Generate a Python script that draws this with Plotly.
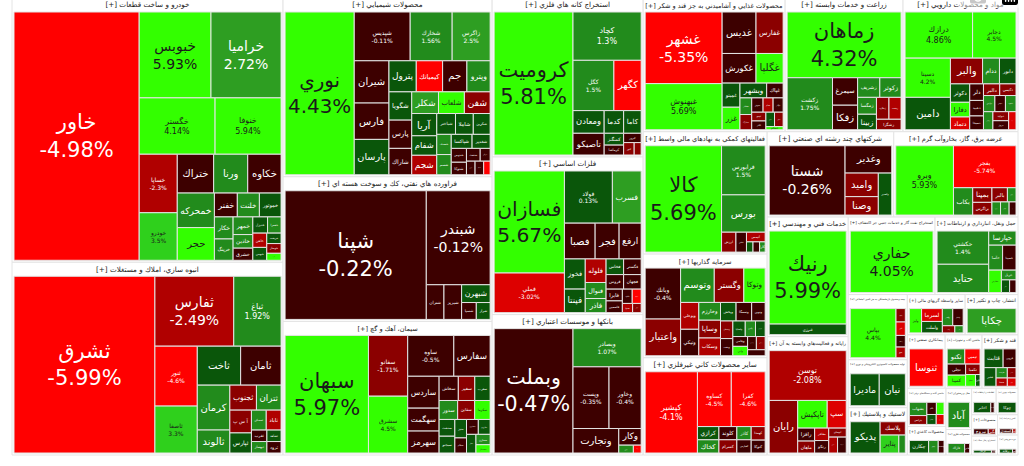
import plotly.graph_objects as go

# ---------------- sectors (name, relative size incl. header) ----------------
sector_names = [
    "خودرو و ساخت قطعات",
    "انبوه سازي، املاك و مستغلات",
    "محصولات شيميايي",
    "فراورده هاي نفتي، كك و سوخت هسته اي",
    "سيمان، آهك و گچ",
    "استخراج كانه هاي فلزي",
    "فلزات اساسي",
    "بانكها و موسسات اعتباري",
    "محصولات غذايي و آشاميدني به جز قند و شكر",
    "زراعت و خدمات وابسته",
    "مواد و محصولات دارويي",
    "فعاليتهاي كمكي به نهادهاي مالي واسط",
    "شركتهاي چند رشته اي صنعتي",
    "عرضه برق، گاز، بخاروآب گرم",
    "سرمايه گذاريها",
    "ساير محصولات كاني غيرفلزي",
    "خدمات فني و مهندسي",
    "رايانه و فعاليت‌هاي وابسته به آن",
    "استخراج نفت گاز و خدمات جنبي جز اكتشاف",
    "حمل ونقل، انبارداري و ارتباطات",
    "بيمه وصندوق بازنشستگي به جز تامين اجتماعي",
    "ساير واسطه گريهاي مالي",
    "انتشار، چاپ و تكثير",
    "پيمانكاري صنعتي",
    "ماشين آلات و تجهيزات",
    "قند و شكر",
    "توليد محصولات كامپيوتري الكترونيكي و نوري",
    "لاستيك و پلاستيك",
    "ماشين آلات و دستگاه‌هاي برقي",
    "محصولات كاغذي",
    "هتل و رستوران",
    "محصولات فلزي",
    "اطلاعات و ارتباطات",
    "محصولات چوبي",
    "منسوجات",
    "استخراج زغال سنگ",
    "كاشي و سراميك",
    "خرده فروشي",
]
sector_sizes = [71300, 52000, 37200, 30100, 27800, 23900, 23700, 21100, 18900, 15700,
                15300, 15100, 10750, 10550, 12800, 12000, 9650, 9550, 6700, 6400,
                3835, 2320, 2120, 2010, 1960, 1910, 2820, 2780, 1470, 1100,
                1050, 650, 648, 575, 552, 486, 414, 405]

# ---------------- stocks per sector: names, sizes, % change ----------------
auto_names = ["خاور", "خبوبس", "خراميا", "خگستر", "خنوفا", "خساپا", "خودرو", "خكاوه", "ختراك", "ورنا",
              "خمحركه", "حجر", "خموتور", "خفنر", "خلنت", "خكار", "خرينگ", "خمهر", "خشرق", "خاهن",
              "خاذين", "خديزل", "خعمرا", "خبهمن", "خريخت", "خوساز", "خصدرا"]
auto_values = [31250, 6200, 6050, 4300, 3740, 2240, 1820, 1300, 1420, 1330,
               1290, 1220, 520, 550, 530, 414, 400, 350, 240, 200,
               270, 240, 220, 180, 150, 140, 100]
auto_change = [-4.98, 5.93, 2.72, 4.14, 5.94, -2.3, 3.5, -0.8, -0.5, 1.5,
               1.8, 4.5, 0.5, -0.6, 1.6, 1.4, 1.2, 1.3, -0.5, -2.0,
               1.0, 0.3, 1.2, 0.5, 0.4, -1.5, 4.5]

build_names = ["ثشرق", "ثفارس", "ثباغ", "ثنور", "ثاصفا", "ثاخت", "ثامان", "كرمان", "ثالوند", "ثجنوب",
               "ثتران", "آ س پ", "ثپارس", "ثمسكن", "ثاباد", "ثغرب", "ثبهساز", "ثشاهد", "ثرود"]
build_values = [25300, 5600, 3360, 2580, 2020, 1716, 1600, 1485, 760, 675,
                625, 500, 440, 300, 300, 180, 180, 165, 165]
build_change = [-5.99, -2.49, 1.92, -4.6, 3.3, 0.6, -0.4, 1.5, 1.2, -1.8,
                1.4, -1.9, 0.3, 1.3, -2.0, -0.6, 1.2, 0.4, -0.5]

chem_names = ["نوري", "شپديس", "شخارك", "زاگرس", "شيران", "فارس", "پارسان", "پترول", "كيمياتك", "جم",
              "وپترو", "شگويا", "پارس", "شاراك", "شكلر", "شلعاب", "شفن", "آريا", "شفام", "شجم",
              "شباختر", "شاملا", "شكربن", "شصدف", "شسم", "شپاكسا", "شغدير", "شدوص", "شتوكا", "شنفت",
              "شرنگي", "شيراز", "شكام", "شصفها"]
chem_values = [11550, 2800, 2100, 1900, 1505, 1295, 1260, 870, 840, 775,
               740, 660, 660, 616, 594, 575, 572, 572, 500, 500,
               400, 380, 360, 300, 300, 300, 260, 216, 195, 180,
               130, 120, 120, 90]
chem_change = [4.43, -0.11, 1.56, 2.5, -0.6, -0.4, 0.3, 0.5, -4.2, -0.7,
               1.3, 0.3, -0.5, -0.6, 2.0, 4.5, -1.7, 0.4, 0.4, -2.2,
               0.2, 0.3, 0.4, 1.4, 1.2, 0.4, 0.3, -0.5, -0.6, -0.7,
               -0.8, -0.6, -0.5, -4.0]

oil_names = ["شپنا", "شبندر", "شتران", "شبريز", "شبهرن", "شسپا", "شراز"]
oil_values = [18700, 6175, 630, 630, 522, 255, 240]
oil_change = [-0.22, -0.12, -0.3, -0.4, 0.5, -0.3, 0.4]

cem_names = ["سبهان", "سفانو", "سشرق", "ساوه", "سفارس", "ساردس", "سهگمت", "سهرمز", "سخاش", "سفير",
             "سغرب", "سدور", "سقاين", "سكرما", "سدشت", "سبجنو", "سنيز", "سيلام", "سكارون", "ساروم",
             "سفار", "سمازن", "سشمال"]
cem_values = [10030, 2440, 2280, 1927, 1517, 1024, 736, 704, 476, 408,
              380, 360, 330, 300, 270, 270, 220, 180, 180, 180,
              180, 150, 120]
cem_change = [5.97, -1.71, 4.5, -0.5, -0.6, -0.8, -0.5, -0.6, -0.7, -1.5,
              0.4, 1.5, -1.8, 4.6, 0.3, 0.4, 0.3, -0.5, -0.6, 0.5,
              0.4, 1.3, 4.4]

mine_names = ["كروميت", "كچاد", "كگل", "كگهر", "ومعادن", "تاصيكو", "كدما", "كاما", "كمنگنز", "كرماشا",
              "كپرور", "كنور", "كسرا"]
mine_values = [11745, 3430, 2142, 1428, 736, 704, 460, 414, 240, 200, 170, 136, 90]
mine_change = [5.81, 1.3, 1.5, -4.3, 0.4, -0.6, 0.3, 0.4, 0.3, -0.5, -0.5, -1.5, -1.6]

metal_names = ["فسازان", "فملي", "فولاد", "فسرب", "فصبا", "فجر", "ارفع", "فخوز", "فپنتا", "فلوله",
               "فنوال", "فاذر", "فخاس", "فگستر", "فروس", "فجهان", "فايرا", "فاسمين", "فكاوه", "فالوم",
               "فسپا", "فرآور"]
metal_values = [7313, 2840, 2550, 1530, 1120, 875, 805, 640, 500, 500,
                340, 300, 280, 280, 260, 260, 195, 195, 144, 130,
                96, 80]
metal_change = [5.67, -3.02, 0.13, 2.2, -0.5, -0.6, -0.5, 0.4, 0.3, -2.2,
                1.3, 1.2, 0.4, -0.6, -0.5, -0.7, -0.5, -0.6, -0.4, -4.2,
                -2.2, -1.5]

bank_names = ["وبملت", "وبصادر", "وپست", "وخاور", "وتجارت", "وكار", "ودي", "وسينا"]
bank_values = [10287, 2730, 2331, 2079, 1175, 391, 120, 64]
bank_change = [-0.47, 1.07, -0.35, -0.4, -0.5, -0.6, 1.3, -4.0]

food_names = ["غشهر", "غبهنوش", "غديس", "غفارس", "غكورش", "غگلپا", "غمينو", "غزر", "وبشهر", "غپاك",
              "غشاذر", "غمارگ", "غنوش", "غدام", "غپآذر", "غپينو", "غاذر", "غشان", "غگل", "غسالم"]
food_values = [5767, 3713, 1470, 1176, 1050, 840, 450, 420, 414, 255,
               204, 187, 170, 150, 150, 130, 130, 130, 130, 56]
food_change = [-5.35, 5.69, -0.6, -1.8, -0.5, 4.3, 0.4, 4.2, 0.3, -0.7,
               1.5, -1.5, -0.6, -2.0, -0.4, -1.8, -0.5, 0.3, -1.6, 4.0]

agri_names = ["زماهان", "زكشت", "سيمرغ", "زفكا", "زشريف", "زكوثر", "زمگسا", "زبينا", "زملارد", "زدشت", "زشگزا"]
agri_values = [7906, 2491, 728, 650, 460, 440, 336, 308, 289, 280, 272]
agri_change = [4.32, 1.75, -0.6, -0.7, 1.2, 1.8, 1.3, 0.5, -1.5, -2.5, -1.7]

pharma_names = ["درازك", "دجابر", "دسينا", "دامين", "والبر", "ددام", "دابور", "دكوثر", "دفارا", "دتماد",
                "دلر", "دعبيد", "دسبحا", "دالبر", "دكيمي", "دپارس", "دشيمي", "داسوه", "درهآور", "دتوليد",
                "دروز", "دفرا"]
pharma_values = [3290, 2115, 1880, 1551, 875, 460, 450, 375, 300, 260,
                 240, 225, 200, 200, 200, 195, 180, 180, 180, 150,
                 150, 140]
pharma_change = [4.86, 4.5, 4.2, 0.4, -1.8, 1.2, 0.3, 0.4, 4.3, -3.0,
                 -0.6, -0.6, -0.5, -1.6, -1.8, 1.4, -0.6, 1.3, 1.2, -1.5,
                 -0.5, -3.5]

fin_names = ["كالا", "فرابورس", "بورس", "ارزش", "اطلس", "آتيمس", "سپرده", "ثبات", "كارا"]
fin_values = [8532, 2250, 1710, 300, 220, 190, 70, 70, 60]
fin_change = [5.69, 1.5, 1.3, -1.8, -0.6, -2.5, 0.4, -0.5, 1.2]

multi_names = ["شستا", "وغدير", "واميد", "وصنا", "وكغدير"]
multi_values = [5538, 1344, 825, 645, 594]
multi_change = [-0.26, -0.6, -1.8, -1.5, 0.3]

power_names = ["وبرو", "بفجر", "بكاب", "بمپنا", "بزاگرس", "بالبر", "بتوان", "بجهرم", "بگيلان", "بنيرو"]
power_values = [4260, 2795, 560, 300, 260, 234, 130, 120, 120, 96]
power_change = [5.93, -5.74, 1.2, -1.8, -1.6, -1.5, 1.3, 1.4, 1.2, -0.5]

inv_names = ["وبانك", "واعتبار", "وتوسم", "وگستر", "وتوكا", "وبوعلي", "ونيكي", "وخارزم", "وساپا", "وسكاب",
             "وپخش", "وسمگا", "ونوين", "وسبحان", "ونفت", "ولساپا", "وآفري", "وكبهمن", "وجامي", "واتي",
             "وسخراج", "وسرضوي", "وسپهر"]
inv_values = [1872, 1350, 1200, 1053, 760, 507, 500, 400, 400, 400,
              300, 300, 260, 225, 220, 200, 165, 156, 150, 144,
              120, 120, 110]
inv_change = [-0.4, -1.8, 1.6, -1.8, 4.4, -2.3, -0.6, 1.4, -1.8, -2.0,
              0.4, -0.6, -0.5, -1.5, -0.5, 0.3, 1.3, 0.4, -0.5, 4.2,
              -0.7, -1.6, -0.5]

nonmet_names = ["كپشير", "كساوه", "كفرا", "كرازي", "كخاك", "كلوند", "كسرام", "كاذر", "كفپارس", "كهمدا", "كتوكا"]
nonmet_values = [4482, 1960, 1960, 300, 300, 250, 250, 200, 200, 200, 190]
nonmet_change = [-4.1, -4.5, -4.6, 0.4, 1.3, -0.6, -1.8, 1.5, -0.5, -1.7, -0.6]

eng_names = ["رنيك", "فنرژي"]
eng_values = [7128, 810]
eng_change = [5.99, 0.3]

it_names = ["توسن", "رايان", "تاپكيش", "سپ", "رافزا", "ماهان", "مفاخر", "رتكو", "ابوساي", "مداران", "فن آوا"]
it_values = [4374, 1710, 930, 600, 250, 230, 200, 200, 180, 160, 157]
it_change = [-2.08, -1.8, 4.4, -3.5, -0.5, -1.6, -2.0, -0.6, -1.5, -2.5, -0.5]

drill_names = ["حفاري"]
drill_values = [5481]
drill_change = [4.05]

trans_names = ["حكشتي", "حتايد", "حپارسا", "حآسا", "حسينا", "حفارس", "حريل", "حسير", "حبندر"]
trans_values = [1802, 1537, 405, 364, 351, 299, 150, 110, 85]
trans_change = [1.4, 1.3, 1.5, 1.2, -0.6, 4.2, 1.2, 0.4, -0.6]

ins_names = ["بپاس", "بكوثر", "البرز", "ومعلم", "بنو"]
ins_values = [2700, 150, 150, 130, 120]
ins_change = [4.4, -1.8, -3.0, -0.6, -2.5]

leas_names = ["وليز", "لسرما", "ولملت", "ولغدر", "ولتجار", "ولصنم", "ولشرق"]
leas_values = [500, 450, 400, 300, 300, 150, 100]
leas_change = [4.5, -3.0, 0.4, 1.3, -0.6, -1.8, 1.2]

print_names = ["چكاپا"]
print_values = [1600]
print_change = [2.5]

contr_names = ["ثنوسا"]
contr_values = [1500]
contr_change = [-4.5]

mach_names = ["تكنو", "تپمپي", "تجلي", "كمينا", "تكمبا", "فجام", "تايرا"]
mach_values = [300, 260, 230, 230, 170, 130, 60]
mach_change = [1.5, -4.0, -0.6, 4.4, -1.8, 4.2, 0.4]

sugar_names = ["قثابت", "قزوين", "قشير", "قلرست", "قنيشا", "قشكر", "قچار"]
sugar_values = [400, 270, 250, 130, 104, 100, 80]
sugar_change = [0.4, -0.6, 0.3, 1.3, -2.5, -1.7, -3.0]

elec_names = ["ماديرا", "نيان"]
elec_values = [1000, 900]
elec_change = [0.4, 0.3]

rubber_names = ["پديكو", "پلاسك", "پتاير", "پارتا"]
rubber_values = [1280, 460, 459, 160]
rubber_change = [0.4, -1.8, 3.0, 1.3]

emach_names = ["بشهاب", "بترانس", "بكام", "بنيان", "بالاس", "بسويچ"]
emach_values = [300, 200, 150, 120, 120, 100]
emach_change = [1.5, -1.8, -0.6, 4.2, 0.3, -3.0]

paper_names = ["چكارن", "چفيبر", "چافست"]
paper_values = [500, 250, 150]
paper_change = [0.4, 1.3, -0.6]

hotel_names = ["آباد"]
hotel_values = [700]
hotel_change = [1.4]

metprod_names = ["فاراك", "فلامي"]
metprod_values = [500, 150]
metprod_change = [1.4, -0.6]

tele_names = ["اخابر", "همراه"]
tele_values = [500, 100]
tele_change = [0.4, -0.6]

wood_names = ["چوكا"]
wood_values = [400]
wood_change = [0.3]

text_names = ["نبروج", "نگين"]
text_values = [300, 150]
text_change = [-0.6, -1.7]

coal_names = ["كزغال", "كطبس"]
coal_values = [350, 80]
coal_change = [0.4, -0.6]

tile_names = ["كسعدي", "كتابا"]
tile_values = [300, 80]
tile_change = [-0.6, -2.2]

retail_names = ["رفاه", "افق"]
retail_values = [300, 80]
retail_change = [0.4, -0.6]

sector_stocks = [
    (auto_names, auto_values, auto_change), (build_names, build_values, build_change),
    (chem_names, chem_values, chem_change), (oil_names, oil_values, oil_change),
    (cem_names, cem_values, cem_change), (mine_names, mine_values, mine_change),
    (metal_names, metal_values, metal_change), (bank_names, bank_values, bank_change),
    (food_names, food_values, food_change), (agri_names, agri_values, agri_change),
    (pharma_names, pharma_values, pharma_change), (fin_names, fin_values, fin_change),
    (multi_names, multi_values, multi_change), (power_names, power_values, power_change),
    (inv_names, inv_values, inv_change), (nonmet_names, nonmet_values, nonmet_change),
    (eng_names, eng_values, eng_change), (it_names, it_values, it_change),
    (drill_names, drill_values, drill_change), (trans_names, trans_values, trans_change),
    (ins_names, ins_values, ins_change), (leas_names, leas_values, leas_change),
    (print_names, print_values, print_change), (contr_names, contr_values, contr_change),
    (mach_names, mach_values, mach_change), (sugar_names, sugar_values, sugar_change),
    (elec_names, elec_values, elec_change), (rubber_names, rubber_values, rubber_change),
    (emach_names, emach_values, emach_change), (paper_names, paper_values, paper_change),
    (hotel_names, hotel_values, hotel_change), (metprod_names, metprod_values, metprod_change),
    (tele_names, tele_values, tele_change), (wood_names, wood_values, wood_change),
    (text_names, text_values, text_change), (coal_names, coal_values, coal_change),
    (tile_names, tile_values, tile_change), (retail_names, retail_values, retail_change),
]


def tile_color(p):
    if p >= 4:
        return "#33ff00"
    if p >= 3:
        return "#2fd01c"
    if p >= 2:
        return "#2e9e22"
    if p >= 1:
        return "#228b1c"
    if p >= 0:
        return "#0a560a"
    if p > -1:
        return "#3d0000"
    if p > -2:
        return "#8b0000"
    if p > -3:
        return "#b00000"
    if p > -4:
        return "#dd0000"
    return "#ff0000"


ids, labels, parents, values, colors, texts, fsizes, fcolors = [], [], [], [], [], [], [], []
for si, (sname, ssize) in enumerate(zip(sector_names, sector_sizes)):
    sid = f"s{si}"
    ids.append(sid)
    labels.append("[+] " + sname)
    parents.append("")
    values.append(0)
    colors.append("#ffffff")
    texts.append("[+] " + sname)
    fsizes.append(9)
    fcolors.append("#222222")
    names, vals, chg = sector_stocks[si]
    scale = ssize / sum(vals)
    for n, v, c in zip(names, vals, chg):
        ids.append(f"{sid}/{n}")
        labels.append(n)
        parents.append(sid)
        values.append(v * scale)
        colors.append(tile_color(c))
        if v >= 1800:
            texts.append(f"{n}<br>{c:g}%")
        else:
            texts.append(n)
        if v >= 7000:
            fsizes.append(21)
        elif v >= 5000:
            fsizes.append(14)
        elif v >= 3000:
            fsizes.append(8)
        elif v >= 1800:
            fsizes.append(6)
        else:
            fsizes.append(10)
        fcolors.append("#1a1a1a" if c >= 3 else "#ffffff")

fig = go.Figure(go.Treemap(
    ids=ids, labels=labels, parents=parents, values=values,
    branchvalues="remainder",
    text=texts, texttemplate="%{text}", textposition="middle center",
    textfont=dict(family="DejaVu Sans", size=fsizes, color=fcolors),
    marker=dict(colors=colors, line=dict(width=1, color="#e4e4e4"),
                pad=dict(t=14, l=2, r=2, b=2)),
    tiling=dict(packing="squarify", squarifyratio=1, pad=0),
    pathbar=dict(visible=False),
    hoverinfo="skip",
    sort=True,
))
# the figure is slightly larger than the window: the hidden root's own padding
# (header 16px on top, 2px at the left) is pushed outside the visible page
fig.update_layout(
    width=1026, height=482,
    margin=dict(l=12, r=4, t=0, b=9),
    paper_bgcolor="#ffffff",
    font=dict(family="DejaVu Sans"),
)
fig.write_html(
    "out.html",
    post_script=(
        "document.body.style.margin='0';document.body.style.overflow='hidden';"
        "var d=document.getElementById('{plot_id}');"
        "d.style.marginTop='-16px';d.style.marginLeft='-2px';"
    ),
)
